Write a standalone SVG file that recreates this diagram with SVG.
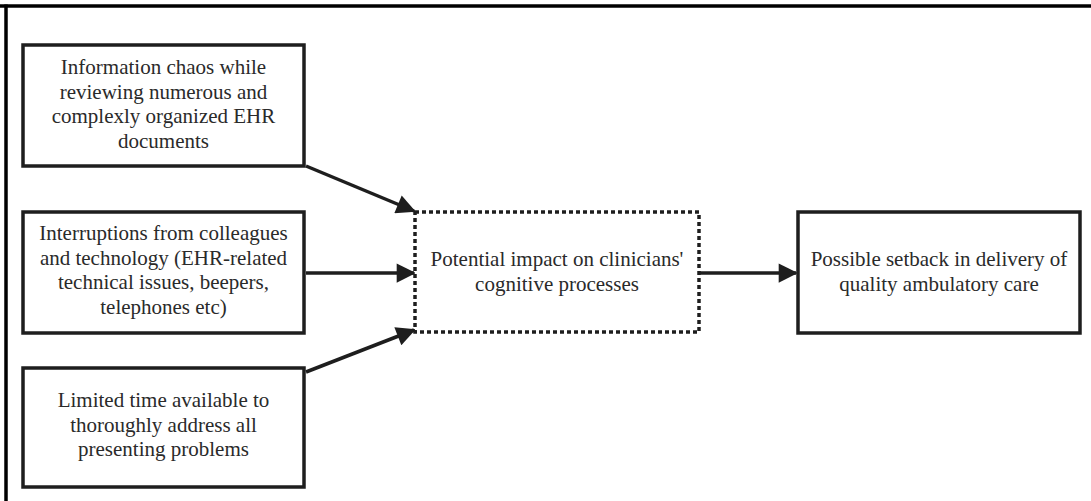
<svg xmlns="http://www.w3.org/2000/svg" width="1091" height="501" viewBox="0 0 1091 501">
  <style>
    .box { fill: #fff; stroke: #1e1e1e; stroke-width: 3.5; }
    .dotted { fill: #fff; stroke: #1e1e1e; stroke-width: 3.5; stroke-dasharray: 4 3; }
    .conn { stroke: #1e1e1e; stroke-width: 3.5; fill: none; marker-end: url(#head); }
  </style>
  <defs>
    <marker id="head" viewBox="0 0 10 10" refX="9" refY="5" markerWidth="6" markerHeight="5.5" orient="auto" markerUnits="strokeWidth">
      <path d="M0,0 L10,5 L0,10 Z" fill="#1e1e1e"/>
    </marker>
  </defs>
  <rect width="1091" height="501" fill="#fff"/>
  <!-- frame: top and left rules -->
  <g id="frame">
    <line x1="0" y1="6" x2="1091" y2="6" stroke="#000" stroke-width="3.5"/>
    <line x1="6" y1="4.5" x2="6" y2="501" stroke="#000" stroke-width="3.5"/>
  </g>
  <g id="connectors">
    <line class="conn" x1="306" y1="166" x2="414" y2="211"/>
    <line class="conn" x1="306" y1="273" x2="414" y2="273"/>
    <line class="conn" x1="306" y1="372" x2="414" y2="330"/>
    <line class="conn" x1="700" y1="273" x2="796" y2="273"/>
  </g>
  <g font-family="Liberation Serif, DejaVu Serif, serif" font-size="21" fill="#2a2a2a" text-anchor="middle">
  <g id="node-info-chaos">
    <rect class="box" x="23" y="45" width="281" height="121"/>
    <text x="163.5" y="74">Information chaos while</text>
    <text x="163.5" y="98.5">reviewing numerous and</text>
    <text x="163.5" y="123">complexly organized EHR</text>
    <text x="163.5" y="147.5">documents</text>
  </g>
  <g id="node-interruptions">
    <rect class="box" x="23" y="212" width="281" height="121"/>
    <text x="163.5" y="240">Interruptions from colleagues</text>
    <text x="163.5" y="264.5">and technology (EHR-related</text>
    <text x="163.5" y="289">technical issues, beepers,</text>
    <text x="163.5" y="313.5">telephones etc)</text>
  </g>
  <g id="node-limited-time">
    <rect class="box" x="23" y="368" width="281" height="119"/>
    <text x="163.5" y="407">Limited time available to</text>
    <text x="163.5" y="431.5">thoroughly address all</text>
    <text x="163.5" y="456">presenting problems</text>
  </g>
  <g id="node-cognitive-impact">
    <rect class="dotted" x="415" y="212" width="284" height="120"/>
    <text x="557" y="266">Potential impact on clinicians'</text>
    <text x="557" y="290.5">cognitive processes</text>
  </g>
  <g id="node-setback">
    <rect class="box" x="798" y="212" width="282" height="121"/>
    <text x="939" y="266">Possible setback in delivery of</text>
    <text x="939" y="290.5">quality ambulatory care</text>
  </g>
  </g>
</svg>
